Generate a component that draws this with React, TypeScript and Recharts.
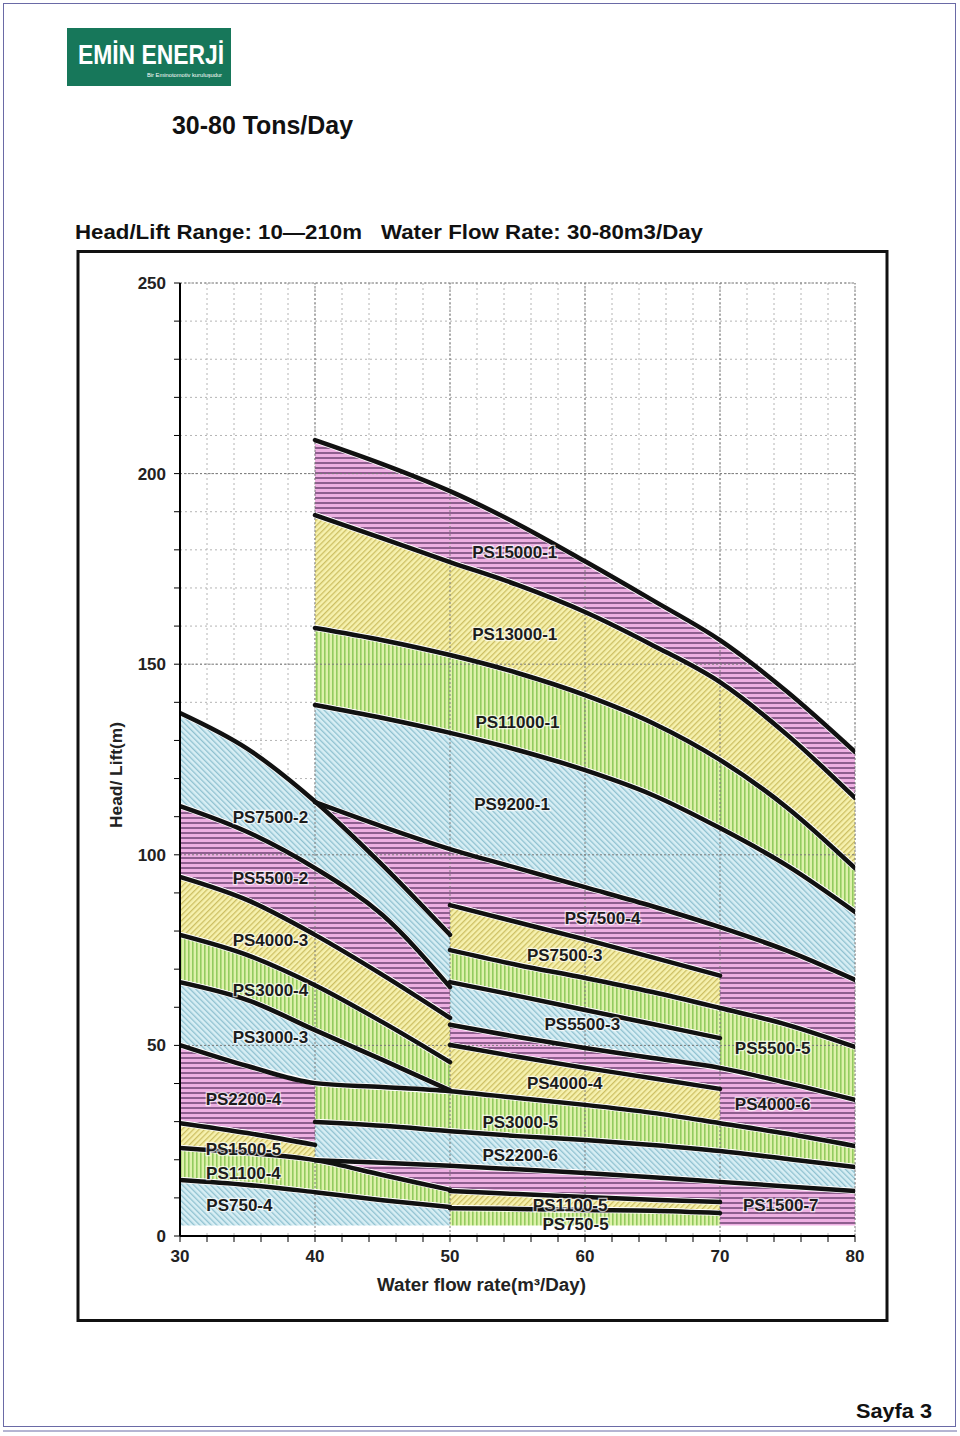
import React from 'react';
import { ComposedChart, Area, Line, Scatter, XAxis, YAxis, CartesianGrid, ReferenceLine } from 'recharts';

const FONT = '"Liberation Sans", Arial, Helvetica, sans-serif';

// flow rate (m3/day) where the curves are sampled
const flowRates = [30, 35, 40, 45, 50, 55, 60, 65, 70, 75, 80];

// head (m) of every boundary curve, null where the curve is not drawn
const _ = null;
const U1 = [_, _, 208.8, 202.5, 195.4, 186.8, 177.0, 166.8, 156.3, 142.7, 127.0];
const U2 = [_, _, 189.1, 183.0, 176.8, 170.8, 163.7, 155.0, 145.3, 131.4, 114.9];
const U3 = [_, _, 159.5, 156.3, 152.4, 147.7, 141.9, 134.6, 124.9, 112.3, 96.5];
const U4 = [_, _, 139.3, 135.9, 132.0, 127.5, 122.2, 115.7, 107.0, 97.1, 85.0];
const U5 = [_, _, 113.8, 107.4, 101.5, 96.5, 91.5, 86.5, 81.0, 74.8, 67.2];
const A1 = [137.2, 127.8, 114.0, 97.3, 79.0, _, _, _, _, _, _];
const A2 = [112.8, 106.0, 96.5, 84.2, 65.3, _, _, _, _, _, _];
const A3 = [94.2, 88.1, 79.0, 68.5, 57.2, _, _, _, _, _, _];
const A4 = [79.0, 73.7, 65.8, 56.1, 45.6, _, _, _, _, _, _];
const A5 = [66.6, 61.9, 54.0, 46.2, 38.2, _, _, _, _, _, _];
const LF = [50.1, 44.6, 40.1, 39.1, 38.0, 36.2, 34.4, 32.3, 29.6, 26.8, 23.6];
const A7 = [29.6, 27.0, 23.9, _, _, _, _, _, _, _, _];
const LG = [_, _, 29.9, 28.9, 27.5, 26.2, 25.2, 23.9, 22.3, 20.2, 18.1];
const LH = [_, _, 19.9, 19.2, 18.4, 17.5, 16.5, 15.4, 14.2, 13.0, 11.8];
const A8 = [23.1, 21.8, 19.9, 16.0, 12.1, _, _, _, _, _, _];
const A9 = [14.7, 13.4, 11.5, 9.4, 7.6, _, _, _, _, _, _];
const LA = [_, _, _, _, 86.8, 82.3, 77.8, 73.1, 68.3, _, _];
const LB = [_, _, _, _, 75.0, 71.1, 67.7, 64.0, 59.8, 55.4, 49.6];
const LC = [_, _, _, _, 66.6, 63.0, 59.3, 55.6, 51.9, _, _];
const LD = [_, _, _, _, 55.4, 52.2, 49.3, 46.7, 44.1, 40.1, 35.7];
const LE = [_, _, _, _, 50.1, 47.0, 44.1, 41.4, 38.6, _, _];
const LI = [_, _, _, _, 11.8, 11.0, 10.2, 9.5, 8.9, _, _];
const LJ = [_, _, _, _, 7.3, 7.1, 6.8, 6.6, 6.0, _, _];
const FLOOR = [2, 2, 2, 2, 2, 2, 2, 2, 2, 2, 2];

const curves: Record<string, (number | null)[]> = {
  U1, U2, U3, U4, U5, A1, A2, A3, A4, A5, LF, A7, LG, LH, A8, A9, LA, LB, LC, LD, LE, LI, LJ, FLOOR,
};

const drawnCurves = ['U1', 'U2', 'U3', 'U4', 'U5', 'A1', 'A2', 'A3', 'A4', 'A5', 'LF', 'A7', 'LG', 'LH',
  'A8', 'A9', 'LA', 'LB', 'LC', 'LD', 'LE', 'LI', 'LJ'];

// coloured bands: lower curve, upper curve, hatch, flow range
const bands = [
  { low: 'U2', high: 'U1', hatch: 'pink', from: 40, to: 80 },
  { low: 'U3', high: 'U2', hatch: 'yellow', from: 40, to: 80 },
  { low: 'U4', high: 'U3', hatch: 'green', from: 40, to: 80 },
  { low: 'U5', high: 'U4', hatch: 'blue', from: 40, to: 80 },
  { low: 'A1', high: 'U5', hatch: 'pink', from: 40, to: 50 },
  { low: 'LA', high: 'U5', hatch: 'pink', from: 50, to: 70 },
  { low: 'LB', high: 'U5', hatch: 'pink', from: 70, to: 80 },
  { low: 'LB', high: 'LA', hatch: 'yellow', from: 50, to: 70 },
  { low: 'LC', high: 'LB', hatch: 'green', from: 50, to: 70 },
  { low: 'LD', high: 'LC', hatch: 'blue', from: 50, to: 70 },
  { low: 'LE', high: 'LD', hatch: 'pink', from: 50, to: 70 },
  { low: 'LF', high: 'LE', hatch: 'yellow', from: 50, to: 70 },
  { low: 'LD', high: 'LB', hatch: 'green', from: 70, to: 80 },
  { low: 'LF', high: 'LD', hatch: 'pink', from: 70, to: 80 },
  { low: 'LG', high: 'LF', hatch: 'green', from: 40, to: 80 },
  { low: 'LH', high: 'LG', hatch: 'blue', from: 40, to: 80 },
  { low: 'A8', high: 'LH', hatch: 'pink', from: 40, to: 50 },
  { low: 'LI', high: 'LH', hatch: 'pink', from: 50, to: 70 },
  { low: 'FLOOR', high: 'LH', hatch: 'pink', from: 70, to: 80 },
  { low: 'LJ', high: 'LI', hatch: 'yellow', from: 50, to: 70 },
  { low: 'FLOOR', high: 'LJ', hatch: 'green', from: 50, to: 70 },
  { low: 'A2', high: 'A1', hatch: 'blue', from: 30, to: 50 },
  { low: 'A3', high: 'A2', hatch: 'pink', from: 30, to: 50 },
  { low: 'A4', high: 'A3', hatch: 'yellow', from: 30, to: 50 },
  { low: 'A5', high: 'A4', hatch: 'green', from: 30, to: 50 },
  { low: 'LF', high: 'A5', hatch: 'blue', from: 30, to: 50 },
  { low: 'A7', high: 'LF', hatch: 'pink', from: 30, to: 40 },
  { low: 'A8', high: 'A7', hatch: 'yellow', from: 30, to: 40 },
  { low: 'A9', high: 'A8', hatch: 'green', from: 30, to: 50 },
  { low: 'FLOOR', high: 'A9', hatch: 'blue', from: 30, to: 50 },
];

const bandLabels = [
  { name: 'PS15000-1', x: 54.8, y: 179.2 },
  { name: 'PS13000-1', x: 54.8, y: 157.7 },
  { name: 'PS11000-1', x: 55.0, y: 134.6 },
  { name: 'PS9200-1', x: 54.6, y: 113.1 },
  { name: 'PS7500-2', x: 36.7, y: 109.9 },
  { name: 'PS5500-2', x: 36.7, y: 93.9 },
  { name: 'PS4000-3', x: 36.7, y: 77.4 },
  { name: 'PS3000-4', x: 36.7, y: 64.3 },
  { name: 'PS3000-3', x: 36.7, y: 52.2 },
  { name: 'PS2200-4', x: 34.7, y: 35.7 },
  { name: 'PS1500-5', x: 34.7, y: 22.8 },
  { name: 'PS1100-4', x: 34.7, y: 16.5 },
  { name: 'PS750-4', x: 34.4, y: 8.1 },
  { name: 'PS7500-4', x: 61.3, y: 83.4 },
  { name: 'PS7500-3', x: 58.5, y: 73.7 },
  { name: 'PS5500-3', x: 59.8, y: 55.6 },
  { name: 'PS5500-5', x: 73.9, y: 49.1 },
  { name: 'PS4000-4', x: 58.5, y: 40.1 },
  { name: 'PS4000-6', x: 73.9, y: 34.4 },
  { name: 'PS3000-5', x: 55.2, y: 29.9 },
  { name: 'PS2200-6', x: 55.2, y: 21.2 },
  { name: 'PS1100-5', x: 58.9, y: 8.1 },
  { name: 'PS750-5', x: 59.3, y: 3.1 },
  { name: 'PS1500-7', x: 74.5, y: 8.1 },
];

const xTicks = [30, 32, 34, 36, 38, 40, 42, 44, 46, 48, 50, 52, 54, 56, 58, 60, 62, 64, 66, 68, 70, 72, 74, 76, 78, 80];
const yTicks = [0, 10, 20, 30, 40, 50, 60, 70, 80, 90, 100, 110, 120, 130, 140, 150, 160, 170, 180, 190, 200,
  210, 220, 230, 240, 250];
const majorX = [40, 50, 60, 70, 80];
const majorY = [50, 100, 150, 200, 250];

const rows = flowRates.map((x, i) => {
  const row: Record<string, any> = { x };
  Object.keys(curves).forEach((k) => {
    const v = curves[k][i];
    if (v != null) row[k] = v;
  });
  bands.forEach((b, j) => {
    const lo = curves[b.low][i];
    const hi = curves[b.high][i];
    if (x >= b.from && x <= b.to && lo != null && hi != null) row['band' + j] = [lo, hi];
  });
  return row;
});

const tickStyle = { fontFamily: FONT, fontWeight: 700, fontSize: 17, fill: '#222' };

const renderBandLabel = (props: any) => (
  <text
    x={props.cx}
    y={props.cy}
    textAnchor="middle"
    dominantBaseline="central"
    fontFamily={FONT}
    fontWeight={700}
    fontSize={17}
    fill="#1c1c1c"
    stroke="#ffffff"
    strokeOpacity={0.7}
    strokeWidth={2.5}
    paintOrder="stroke"
  >
    {props.payload.name}
  </text>
);

const PumpChart = () => (
  <ComposedChart width={806} height={1068} data={rows} margin={{ top: 31, right: 31, bottom: 34, left: 40 }}>
    <defs>
      <pattern id="hatch-pink" patternUnits="userSpaceOnUse" width="6" height="5">
        <rect width="6" height="5" fill="#eeb0e2" />
        <rect width="6" height="2" fill="#8e5f8f" />
      </pattern>
      <pattern id="hatch-yellow" patternUnits="userSpaceOnUse" width="4" height="4" patternTransform="rotate(45)">
        <rect width="4" height="4" fill="#f6f1ae" />
        <rect width="1.3" height="4" fill="#cdbf63" />
      </pattern>
      <pattern id="hatch-green" patternUnits="userSpaceOnUse" width="4" height="4">
        <rect width="4" height="4" fill="#def1ab" />
        <rect width="1.6" height="4" fill="#93cb5f" />
      </pattern>
      <pattern id="hatch-blue" patternUnits="userSpaceOnUse" width="4" height="4" patternTransform="rotate(-45)">
        <rect width="4" height="4" fill="#d7eef4" />
        <rect width="1.3" height="4" fill="#8fc1d0" />
      </pattern>
    </defs>
    <CartesianGrid stroke="#b4b4b4" strokeDasharray="2 3" />
    {majorX.map((v) => (
      <ReferenceLine key={'mx' + v} x={v} stroke="#7a7a7a" strokeDasharray="2 2" />
    ))}
    {majorY.map((v) => (
      <ReferenceLine key={'my' + v} y={v} stroke="#7a7a7a" strokeDasharray="2 2" />
    ))}
    <XAxis
      dataKey="x"
      type="number"
      domain={[30, 80]}
      ticks={xTicks}
      interval={0}
      allowDataOverflow
      height={50}
      tickSize={6}
      tickMargin={8}
      tick={tickStyle}
      tickLine={{ stroke: '#000' }}
      axisLine={{ stroke: '#000', strokeWidth: 2 }}
      tickFormatter={(v: number) => (v % 10 === 0 ? String(v) : '')}
    />
    <YAxis
      type="number"
      domain={[0, 250]}
      ticks={yTicks}
      interval={0}
      allowDataOverflow
      width={60}
      tickSize={6}
      tickMargin={8}
      tick={tickStyle}
      tickLine={{ stroke: '#000' }}
      axisLine={{ stroke: '#000', strokeWidth: 2 }}
      tickFormatter={(v: number) => (v % 50 === 0 ? String(v) : '')}
    />
    {bands.map((b, j) => (
      <Area
        key={'band' + j}
        dataKey={'band' + j}
        type="monotone"
        fill={`url(#hatch-${b.hatch})`}
        fillOpacity={1}
        stroke="#ffffff"
        strokeWidth={6}
        dot={false}
        activeDot={false}
        isAnimationActive={false}
      />
    ))}
    {drawnCurves.map((k) => (
      <Line
        key={k}
        dataKey={k}
        type="monotone"
        stroke="#111"
        strokeWidth={4.5}
        strokeLinecap="round"
        dot={false}
        activeDot={false}
        isAnimationActive={false}
      />
    ))}
    <Scatter data={bandLabels} dataKey="y" shape={renderBandLabel} isAnimationActive={false} />
  </ComposedChart>
);

export default function App() {
  return (
    <div style={{ position: 'absolute', left: 0, top: 0, width: 960, height: 1436, background: '#fff' }}>
      <svg width={960} height={1436} style={{ position: 'absolute', left: 0, top: 0 }}>
        <rect x={3.5} y={3.5} width={952} height={1423} fill="none" stroke="#6a6aa6" strokeWidth={1} />
        <line x1={3} y1={1431} x2={957} y2={1431} stroke="#6a6aa6" strokeWidth={1} />
        <rect x={67} y={28} width={164} height={58} fill="#17775a" />
        <text x={78} y={64} fontFamily={FONT} fontWeight={700} fontSize={28} fill="#fff"
          textLength={146} lengthAdjust="spacingAndGlyphs">EMİN ENERJİ</text>
        <text x={147} y={77} fontFamily={FONT} fontSize={6} fill="#fff"
          textLength={75} lengthAdjust="spacingAndGlyphs">Bir Eminotomotiv kuruluşudur</text>
        <text x={172} y={134} fontFamily={FONT} fontWeight={700} fontSize={25} fill="#111"
          textLength={181} lengthAdjust="spacingAndGlyphs">30-80 Tons/Day</text>
        <text x={75} y={239} fontFamily={FONT} fontWeight={700} fontSize={21} fill="#111"
          textLength={287} lengthAdjust="spacingAndGlyphs">Head/Lift Range: 10—210m</text>
        <text x={381} y={239} fontFamily={FONT} fontWeight={700} fontSize={21} fill="#111"
          textLength={322} lengthAdjust="spacingAndGlyphs">Water Flow Rate: 30-80m3/Day</text>
        <rect x={78} y={251.5} width={809} height={1069} fill="none" stroke="#111" strokeWidth={3} />
        <text transform="translate(116,775) rotate(-90)" textAnchor="middle" dominantBaseline="central"
          fontFamily={FONT} fontWeight={700} fontSize={17} fill="#222"
          textLength={106} lengthAdjust="spacingAndGlyphs">Head/ Lift(m)</text>
        <text x={377} y={1291} fontFamily={FONT} fontWeight={700} fontSize={18} fill="#222"
          textLength={209} lengthAdjust="spacingAndGlyphs">Water flow rate(m³/Day)</text>
        <text x={856} y={1418} fontFamily={FONT} fontWeight={700} fontSize={21} fill="#111"
          textLength={76} lengthAdjust="spacingAndGlyphs">Sayfa 3</text>
      </svg>
      <div style={{ position: 'absolute', left: 80, top: 252 }}>
        <PumpChart />
      </div>
    </div>
  );
}
